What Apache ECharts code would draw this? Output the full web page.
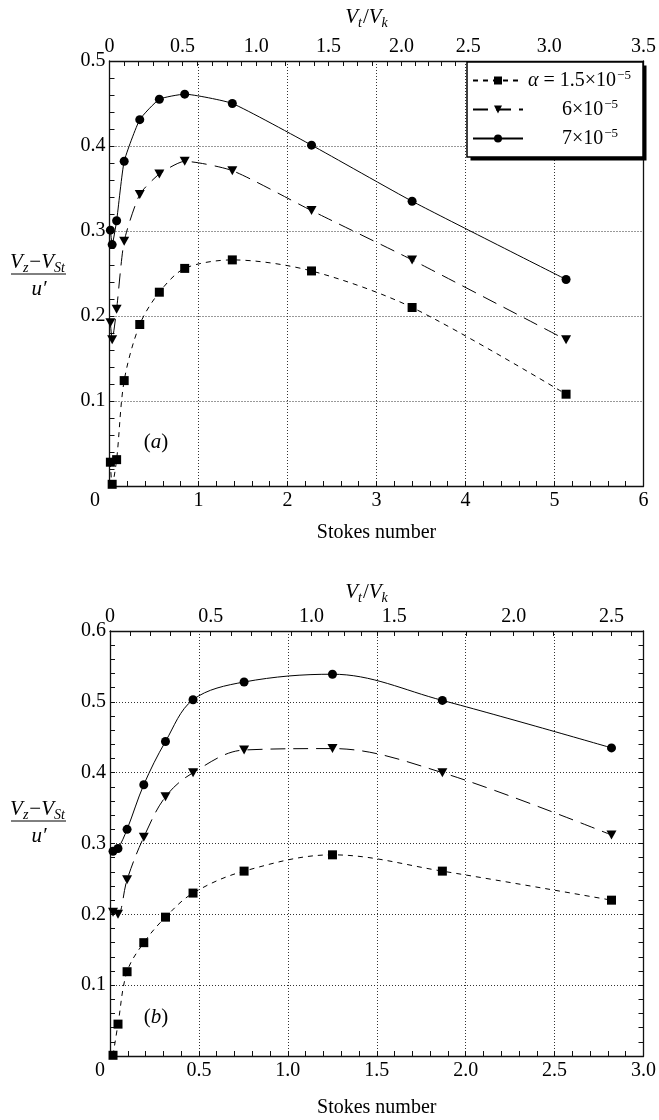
<!DOCTYPE html>
<html>
<head>
<meta charset="utf-8">
<script src="https://cdn.jsdelivr.net/npm/echarts@6/dist/echarts.min.js"></script>
<style>
  html, body { margin: 0; padding: 0; background: #fff; }
  #chart { width: 659px; height: 1120px; }
</style>
</head>
<body>
<div id="chart"></div>
<script>
// ---- panel (a) ----
const stokesA    = [0.01, 0.03, 0.08, 0.165, 0.34, 0.56, 0.845, 1.38, 2.27, 3.40, 5.13];
const squaresA   = [0.028, 0.002, 0.031, 0.124, 0.190, 0.228, 0.256, 0.266, 0.253, 0.210, 0.108];
const trianglesA = [0.192, 0.172, 0.208, 0.288, 0.343, 0.367, 0.382, 0.371, 0.324, 0.266, 0.172];
const circlesA   = [0.301, 0.284, 0.312, 0.382, 0.431, 0.455, 0.461, 0.450, 0.401, 0.335, 0.243];
// V_t/V_k labels of the upper axis and the Stokes numbers they stand at
const vtLabelsA  = [0, 0.5, 1.0, 1.5, 2.0, 2.5, 3.0, 3.5];
const vtStokesA  = [0, 0.82, 1.65, 2.46, 3.28, 4.03, 4.94, 6.0];

// ---- panel (b) ----
const stokesB    = [0.017, 0.045, 0.096, 0.19, 0.312, 0.467, 0.754, 1.251, 1.869, 2.82];
const squaresB   = [0.001, 0.045, 0.119, 0.160, 0.196, 0.230, 0.261, 0.284, 0.261, 0.220];
const trianglesB = [0.203, 0.200, 0.249, 0.309, 0.366, 0.400, 0.432, 0.434, 0.400, 0.312];
const circlesB   = [0.289, 0.293, 0.320, 0.383, 0.444, 0.503, 0.528, 0.539, 0.502, 0.435];
const vtLabelsB  = [0, 0.5, 1.0, 1.5, 2.0, 2.5];
const vtStokesB  = [0, 0.566, 1.133, 1.598, 2.27, 2.82];

// legend entries: alpha = mantissa x 10^exponent
const alphaMantissa = ['1.5', '6', '7'];
const alphaExponent = '\u22125';
const seriesNames = alphaMantissa.map(m => 'alpha ' + m + 'e-5');

const FONT = '"Liberation Serif", "Times New Roman", serif';
const INK = '#111';
const GRID_LINE = { color: '#333', type: [1, 2], width: 1 };

// piecewise-linear position of a V_t/V_k value on the Stokes scale
function vtToStokes(v, vs, sts) {
  let i = 0;
  while (i < vs.length - 2 && v > vs[i + 1]) i++;
  const t = (v - vs[i]) / (vs[i + 1] - vs[i]);
  return sts[i] + t * (sts[i + 1] - sts[i]);
}
function vtTicks(vs, sts, stMax) {
  const out = [];
  for (let k = 0; k <= 60; k++) {
    const s = vtToStokes(k / 10, vs, sts);
    if (s <= stMax + 1e-6) out.push(+s.toFixed(5));
  }
  return out;
}

function bottomAxis(gi, max, interval, zeroPad, fmt) {
  return {
    type: 'value', gridIndex: gi, position: 'bottom', min: 0, max: max, interval: interval,
    axisLine: { show: true, onZero: false, lineStyle: { color: INK, width: 1.3 } },
    axisTick: { show: true, inside: true, length: 5, lineStyle: { color: INK } },
    minorTick: { show: true, splitNumber: 5, length: 5, lineStyle: { color: INK } },
    splitLine: { show: true, lineStyle: GRID_LINE },
    axisLabel: {
      margin: 5, fontFamily: FONT, fontSize: 20, color: '#000',
      formatter: v => v === 0 ? '{z|0}' : fmt(v),
      rich: { z: { fontFamily: FONT, fontSize: 20, color: '#000', padding: [0, zeroPad, 0, 0] } }
    },
    name: 'Stokes number', nameLocation: 'middle', nameGap: gi === 0 ? 37 : 42,
    nameTextStyle: { fontFamily: FONT, fontSize: 20, color: '#000' }
  };
}

function topAxis(gi, max, vs, sts) {
  const labelOf = s => {
    const i = sts.findIndex(x => Math.abs(x - s) < 1e-6);
    if (i < 0) return '';
    return vs[i] === 0 ? '0' : vs[i].toFixed(1);
  };
  return {
    type: 'value', gridIndex: gi, position: 'top', min: 0, max: max,
    axisLine: { show: true, onZero: false, lineStyle: { color: INK, width: 1.3 } },
    axisTick: { show: true, inside: true, length: 5, lineStyle: { color: INK },
                customValues: vtTicks(vs, sts, max) },
    splitLine: { show: false },
    axisLabel: { margin: 4, fontFamily: FONT, fontSize: 20, color: '#000',
                 customValues: sts, formatter: labelOf }
  };
}

function leftAxis(gi, max) {
  return {
    type: 'value', gridIndex: gi, position: 'left', min: 0, max: max, interval: 0.1,
    axisLine: { show: true, onZero: false, lineStyle: { color: INK, width: 1.3 } },
    axisTick: { show: true, inside: true, length: 5, lineStyle: { color: INK } },
    minorTick: { show: true, splitNumber: 5, length: 5, lineStyle: { color: INK } },
    splitLine: { show: true, lineStyle: GRID_LINE },
    axisLabel: { showMinLabel: false, margin: 4, fontFamily: FONT, fontSize: 20, color: '#000',
                 formatter: v => v.toFixed(1) }
  };
}

function rightAxis(gi, max, ticks) {
  return {
    type: 'value', gridIndex: gi, position: 'right', min: 0, max: max, interval: 0.1,
    axisLine: { show: true, onZero: false, lineStyle: { color: INK, width: 1.3 } },
    axisTick: { show: ticks, inside: true, length: 5, lineStyle: { color: INK } },
    minorTick: { show: ticks, splitNumber: 5, length: 5, lineStyle: { color: INK } },
    splitLine: { show: false },
    axisLabel: { show: false }
  };
}

const markerStyles = [
  { symbol: 'rect', symbolSize: 9, symbolRotate: 0, dash: [5, 5] },
  { symbol: 'triangle', symbolSize: [10, 9], symbolRotate: 180, dash: [15, 8] },
  { symbol: 'circle', symbolSize: 9, symbolRotate: 0, dash: 'solid' }
];

function curve(k, xi, yi, st, vals, smooth) {
  const m = markerStyles[k];
  return {
    name: seriesNames[k], type: 'line', xAxisIndex: xi, yAxisIndex: yi,
    data: st.map((s, i) => [s, vals[i]]),
    symbol: m.symbol, symbolSize: m.symbolSize, symbolRotate: m.symbolRotate,
    showAllSymbol: true, smooth: smooth,
    lineStyle: { color: '#000', width: 1, type: m.dash },
    itemStyle: { color: '#000' },
    emphasis: { disabled: true }, animation: false
  };
}

const titleRich = {
  v: { fontFamily: FONT, fontStyle: 'italic', fontSize: 21, fill: '#000', lineHeight: 26 },
  n: { fontFamily: FONT, fontSize: 21, fill: '#000', lineHeight: 26 },
  s: { fontFamily: FONT, fontStyle: 'italic', fontSize: 14, fill: '#000', lineHeight: 14, padding: [12, 1, 0, 0] }
};
const plainRich = {
  p: { fontFamily: FONT, fontSize: 21, fill: '#000' },
  i: { fontFamily: FONT, fontStyle: 'italic', fontSize: 21, fill: '#000' }
};

function fraction(yBar) {
  return [
    { type: 'text', x: 38, y: yBar - 12, style: { text: '{v|V}{s|z}{n|\u2212}{v|V}{s|St}', rich: titleRich,
      fontSize: 21, fontFamily: FONT, align: 'center', verticalAlign: 'middle' } },
    { type: 'line', shape: { x1: 11, y1: yBar, x2: 66, y2: yBar }, style: { stroke: '#000', lineWidth: 1 } },
    { type: 'text', x: 39, y: yBar + 15, style: { text: '{v|u\u2032}', rich: titleRich,
      fontSize: 21, fontFamily: FONT, align: 'center', verticalAlign: 'middle' } }
  ];
}

// legend frame with a solid drop shadow on its lower right
const legendBox = { x: 467, y: 62, width: 176, height: 95 };

const chart = echarts.init(document.getElementById('chart'), null, { renderer: 'canvas' });
chart.setOption({
  animation: false,
  backgroundColor: '#fff',
  grid: [
    { left: 109.5, top: 61, width: 536, height: 425 },
    { left: 110, top: 631, width: 535, height: 425 }
  ],
  xAxis: [
    bottomAxis(0, 6, 1, 29, v => String(v)),
    topAxis(0, 6, vtLabelsA, vtStokesA),
    bottomAxis(1, 3, 0.5, 20, v => v.toFixed(1)),
    topAxis(1, 3, vtLabelsB, vtStokesB)
  ],
  yAxis: [
    leftAxis(0, 0.5),
    rightAxis(0, 0.5, false),
    leftAxis(1, 0.6),
    rightAxis(1, 0.6, true)
  ],
  legend: {
    orient: 'vertical', left: 467, top: 62,
    itemWidth: 50, itemHeight: 10, itemGap: 6,
    padding: [7, 16, 7, 5],
    backgroundColor: 'transparent', borderWidth: 0,
    selectedMode: false,
    data: seriesNames,
    formatter: name => {
      const k = seriesNames.indexOf(name);
      return k === 0
        ? '{a|\u03b1}{b| = ' + alphaMantissa[k] + '\u00d710}{e|' + alphaExponent + '}'
        : '{c|' + alphaMantissa[k] + '\u00d710}{e|' + alphaExponent + '}';
    },
    textStyle: {
      fontFamily: FONT, fontSize: 20, color: '#000', lineHeight: 21,
      rich: {
        a: { fontFamily: FONT, fontStyle: 'italic', fontSize: 20, color: '#000', lineHeight: 21 },
        b: { fontFamily: FONT, fontSize: 20, color: '#000', lineHeight: 21 },
        c: { fontFamily: FONT, fontSize: 20, color: '#000', lineHeight: 21, padding: [0, 0, 0, 34] },
        e: { fontFamily: FONT, fontSize: 13, color: '#000', lineHeight: 13, padding: [0, 0, 10, 1] }
      }
    }
  },
  series: [
    curve(0, 0, 0, stokesA, squaresA, 0.3),
    curve(1, 0, 0, stokesA, trianglesA, 0.2),
    curve(2, 0, 0, stokesA, circlesA, 0.15),
    curve(0, 2, 2, stokesB, squaresB, 0.35),
    curve(1, 2, 2, stokesB, trianglesB, 0.35),
    curve(2, 2, 2, stokesB, circlesB, 0.35)
  ],
  graphic: [
    { type: 'rect', z: 3, silent: true,
      shape: { x: legendBox.x + 3.5, y: legendBox.y + 3.5, width: legendBox.width, height: legendBox.height },
      style: { fill: '#000' } },
    { type: 'rect', z: 3, silent: true,
      shape: legendBox, style: { fill: '#fff', stroke: '#000', lineWidth: 1.5 } },
    { type: 'text', x: 367, y: 17, style: { text: '{v|V}{s|t}{n|/}{v|V}{s|k}', rich: titleRich,
      fontSize: 21, fontFamily: FONT, align: 'center', verticalAlign: 'middle' } },
    { type: 'text', x: 367, y: 592, style: { text: '{v|V}{s|t}{n|/}{v|V}{s|k}', rich: titleRich,
      fontSize: 21, fontFamily: FONT, align: 'center', verticalAlign: 'middle' } },
    ...fraction(274),
    ...fraction(821),
    { type: 'text', x: 156, y: 442, style: { text: '{p|(}{i|a}{p|)}', rich: plainRich,
      fontSize: 21, fontFamily: FONT, align: 'center', verticalAlign: 'middle' } },
    { type: 'text', x: 156, y: 1017, style: { text: '{p|(}{i|b}{p|)}', rich: plainRich,
      fontSize: 21, fontFamily: FONT, align: 'center', verticalAlign: 'middle' } }
  ]
});
</script>
</body>
</html>
